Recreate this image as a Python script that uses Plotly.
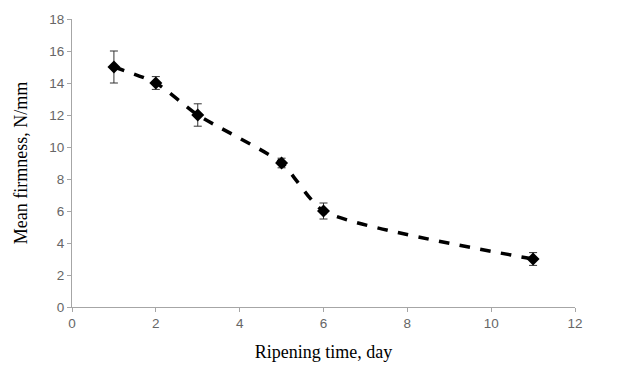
import plotly.graph_objects as go

days = [1, 2, 3, 5, 6, 11]
firmness = [15, 14, 12, 9, 6, 3]
err = [1.0, 0.4, 0.7, 0.3, 0.5, 0.4]

fig = go.Figure()
fig.add_trace(go.Scatter(
    x=days, y=firmness, mode="lines+markers",
    line=dict(color="black", width=3.5, dash="dash", shape="spline", smoothing=0.6),
    marker=dict(symbol="diamond", size=10, color="black"),
    error_y=dict(type="data", array=err, visible=True, color="#333333", thickness=1, width=4),
    showlegend=False,
))
fig.update_layout(
    width=618, height=371,
    margin=dict(l=72, r=43, t=17, b=62),
    paper_bgcolor="white", plot_bgcolor="white",
    xaxis=dict(range=[0, 12], tickvals=[0, 2, 4, 6, 8, 10, 12], showgrid=False, zeroline=False,
               showline=True, linecolor="#a6a6a6", linewidth=1, ticks="outside", ticklen=4,
               tickcolor="#a6a6a6",
               tickfont=dict(family="Liberation Sans, Arial", size=13.5, color="#666666"),
               title=dict(text="Ripening time, day", font=dict(family="Liberation Serif, Times New Roman", size=18, color="black"), standoff=15)),
    yaxis=dict(range=[0, 18], tickvals=list(range(0, 19, 2)), showgrid=False, zeroline=False,
               showline=True, linecolor="#a6a6a6", linewidth=1, ticks="outside", ticklen=4,
               tickcolor="#a6a6a6",
               tickfont=dict(family="Liberation Sans, Arial", size=13.5, color="#666666"),
               title=dict(text="Mean firmness, N/mm", font=dict(family="Liberation Serif, Times New Roman", size=18, color="black"), standoff=16)),
)
fig.write_html("out.html")
